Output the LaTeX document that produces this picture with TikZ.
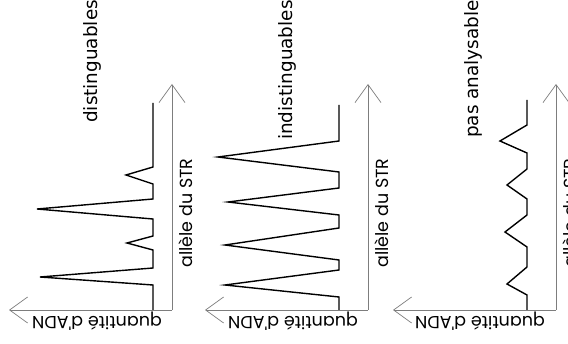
\documentclass[tikz,border=0pt]{standalone}
\usepackage{fontspec}
\setsansfont{DejaVu Sans}
\newfontfamily\axisfont{Poppins}
\usepackage{tikz}
\usetikzlibrary{arrows.meta}
\usepackage{xcolor}
\definecolor{axisgray}{RGB}{125, 125, 125}

\begin{document}
\begin{tikzpicture}[
        x=1pt, y=-1pt,
        >={Straight Barb[length=18pt, width=26pt]},
        axis/.style={->, axisgray, line width=0.7pt},
        signal/.style={black, line width=1.4pt},
        title/.style={rotate=90, anchor=base west, inner sep=0pt, font=\sffamily\fontsize{18.4}{20}\selectfont},
        ylabel/.style={rotate=90, anchor=base west, inner sep=0pt, font=\axisfont\fontsize{17.5}{19}\selectfont},
        xlabel/.style={rotate=180, anchor=base, inner sep=0pt, font=\axisfont\fontsize{17.5}{19}\selectfont}
    ]
        \clip (0,0) rectangle (568,344);

        % distinguables
        \coordinate (o1) at (172,310);
        \coordinate (y1) at (172,84);
        \coordinate (x1) at (9,310);
        \draw[axis] (o1) -- (y1);
        \draw[axis] (o1) -- (x1);
        \draw[signal] (153,103) -- (153,167) -- (126,175) -- (153,184) -- (153,199) -- (37,209) -- (153,219)
            -- (153,236) -- (127,243) -- (153,250) -- (153,268) -- (40,277) -- (153,285) -- (153,310);
        \node[title] (t1) at (97,123) {distinguables};
        \node[ylabel] (a1) at (192,268) {allèle du STR};
        \node[xlabel] (q1) at (97,317) {quantité d'ADN};

        % indistinguables
        \coordinate (o2) at (368,310);
        \coordinate (y2) at (368,84);
        \coordinate (x2) at (205,310);
        \draw[axis] (o2) -- (y2);
        \draw[axis] (o2) -- (x2);
        \draw[signal] (339,105) -- (339,141) -- (218,157) -- (339,172) -- (339,188) -- (228,202) -- (339,215)
            -- (339,228) -- (225,245) -- (339,260) -- (339,270) -- (225,285) -- (339,297) -- (339,310);
        \node[title] (t2) at (292,140) {indistinguables};
        \node[ylabel] (a2) at (388,268) {allèle du STR};
        \node[xlabel] (q2) at (293,317) {quantité d'ADN};

        % pas analysable
        \coordinate (o3) at (556,310);
        \coordinate (y3) at (556,84);
        \coordinate (x3) at (393,310);
        \draw[axis] (o3) -- (y3);
        \draw[axis] (o3) -- (x3);
        \draw[signal] (527,100) -- (527,125) -- (500,141) -- (527,153) -- (527,169) -- (507,185) -- (527,199)
            -- (527,215) -- (505,232) -- (527,247) -- (527,267) -- (507,284) -- (527,295) -- (527,310);
        \node[title] (t3) at (478,138) {pas analysable};
        \node[ylabel] (a3) at (576,268) {allèle du STR};
        \node[xlabel] (q3) at (480,317) {quantité d'ADN};
    \end{tikzpicture}
\end{document}
